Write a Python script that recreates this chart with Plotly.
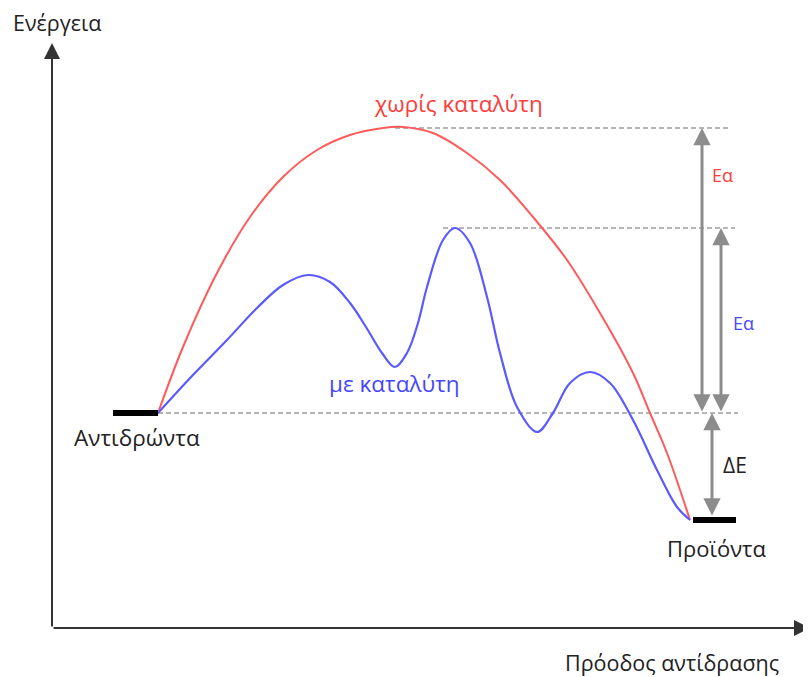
import plotly.graph_objects as go

# Reaction progress (x) and energy (y) in arbitrary units
red_x = [106, 131, 165, 198, 231, 265, 298, 331, 351, 381, 415, 448, 481, 515, 548, 581, 598, 615, 638]
red_y = [215, 281, 355, 411, 451, 478, 493, 500, 501, 495, 475, 448, 411, 368, 315, 255, 215, 175, 108]

blue_x = [106, 140, 175, 205, 231, 256, 278, 298, 314, 330, 343, 355, 366, 375, 391, 403, 418, 435,
          448, 465, 485, 501, 518, 538, 558, 581, 605, 625, 638]
blue_y = [215, 252, 288, 320, 343, 353, 346, 325, 301, 275, 261, 275, 305, 341, 388, 400, 385, 331,
          275, 221, 196, 215, 245, 256, 245, 208, 158, 121, 108]

E_reactants = 215
E_products = 108
E_peak_uncat = 500
E_peak_cat = 400

reactant_bar_x = [61, 106]
product_bar_x = [641, 684]

labels = {
    "y_title": "Ενέργεια",
    "x_title": "Πρόοδος αντίδρασης",
    "uncat": "χωρίς καταλύτη",
    "cat": "με καταλύτη",
    "reactants": "Αντιδρώντα",
    "products": "Προϊόντα",
    "ea": "Eα",
    "de": "ΔE",
}

FONT = "Open Sans"
RED = "#ff3b3b"
BLUE = "#4646ff"
GRAY = "#8c8c8c"
DASH = "#a0a0a0"

fig = go.Figure()

# dashed reference lines
for x0, x1, yv in [(343, 679, E_peak_uncat), (391, 683, E_peak_cat), (106, 686, E_reactants)]:
    fig.add_trace(go.Scatter(x=[x0, x1], y=[yv, yv], mode="lines",
                             line=dict(color=DASH, width=1.5, dash="5px,3px"), hoverinfo="skip"))

fig.add_trace(go.Scatter(x=red_x, y=red_y, mode="lines",
                         line=dict(color="#ff5a5a", width=2, shape="spline", smoothing=1.0)))
fig.add_trace(go.Scatter(x=blue_x, y=blue_y, mode="lines",
                         line=dict(color="#5a5aff", width=2.2, shape="spline", smoothing=1.0)))

# energy level bars
fig.add_trace(go.Scatter(x=reactant_bar_x, y=[E_reactants] * 2, mode="lines",
                         line=dict(color="black", width=6)))
fig.add_trace(go.Scatter(x=product_bar_x, y=[E_products] * 2, mode="lines",
                         line=dict(color="black", width=6)))

annotations = []

def arrow(x, y, ax, ay, color, width, size, side="end", head=2):
    annotations.append(dict(x=x, y=y, ax=ax, ay=ay, xref="x", yref="y", axref="x", ayref="y",
                            text="", showarrow=True, arrowhead=head, startarrowhead=head,
                            arrowside=side, arrowsize=size, startarrowsize=size,
                            arrowwidth=width, arrowcolor=color, standoff=0, startstandoff=0))

# axes
arrow(0, 585, 0, 0, "#333333", 2, 1.6)
arrow(758, 0, 0, 0, "#333333", 2, 1.6)

# energy differences
arrow(650, E_peak_uncat, 650, E_reactants, GRAY, 3, 1.15, side="end+start")
arrow(669, E_peak_cat, 669, E_reactants, GRAY, 3, 1.15, side="end+start")
arrow(660, E_reactants, 660, E_products + 3, GRAY, 3, 1.15, side="end+start")

def text(x, y, s, color="#222222", size=22.5):
    annotations.append(dict(x=x, y=y, xref="x", yref="y", text=s, showarrow=False,
                            font=dict(family=FONT, size=size, color=color),
                            xanchor="center", yanchor="middle"))

text(5, 606, labels["y_title"], size=21.5)
text(620, -34, labels["x_title"], size=21.5)
text(406, 525, labels["uncat"], RED)
text(342, 245, labels["cat"], BLUE)
text(85, 191, labels["reactants"])
text(664, 80, labels["products"], size=22)
text(670, 453, labels["ea"], RED, 18)
text(691, 305, labels["ea"], BLUE, 18)
text(683, 163, labels["de"], "#222222", 21)

# page body has an 8px margin: figure is 8px smaller, ranges shifted accordingly
fig.update_layout(
    width=803, height=669, autosize=False,
    margin=dict(l=0, r=0, t=0, b=0, pad=0),
    paper_bgcolor="white", plot_bgcolor="white",
    showlegend=False,
    xaxis=dict(range=[-44, 759], visible=False, fixedrange=True),
    yaxis=dict(range=[-49, 620], visible=False, fixedrange=True),
    annotations=annotations,
)

fig.write_html("out.html")
